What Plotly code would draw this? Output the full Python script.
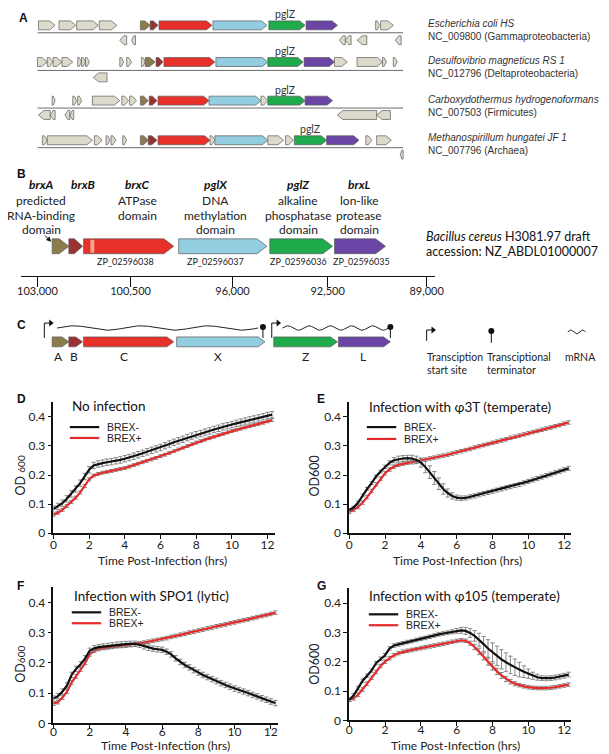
import math
import plotly.graph_objects as go

W, H = 609, 754
CAL = "Lato, Carlito, Calibri, sans-serif"
ARIAL = "Liberation Sans, Arial, sans-serif"
RED = "#e32b2b"
BLACK = "#111111"
ERRC = "#7d7d7d"

# ---------------- growth-curve data (OD600) ----------------
time_hrs = [0.0, 0.25, 0.5, 0.75, 1.0, 1.25, 1.5, 1.75, 2.0, 2.25,
            2.5, 2.75, 3.0, 3.25, 3.5, 3.75, 4.0, 4.25, 4.5, 4.75,
            5.0, 5.25, 5.5, 5.75, 6.0, 6.25, 6.5, 6.75, 7.0, 7.25,
            7.5, 7.75, 8.0, 8.25, 8.5, 8.75, 9.0, 9.25, 9.5, 9.75,
            10.0, 10.25, 10.5, 10.75, 11.0, 11.25, 11.5, 11.75, 12.0, 12.25]

d_brex_minus = [0.083, 0.092, 0.103, 0.118, 0.135, 0.152, 0.172, 0.195, 0.218, 0.233,
                0.238, 0.241, 0.244, 0.246, 0.249, 0.252, 0.256, 0.260, 0.265, 0.270,
                0.275, 0.280, 0.285, 0.290, 0.295, 0.301, 0.307, 0.313, 0.318, 0.323,
                0.329, 0.334, 0.339, 0.343, 0.348, 0.352, 0.357, 0.361, 0.366, 0.370,
                0.374, 0.378, 0.382, 0.386, 0.390, 0.393, 0.397, 0.401, 0.405, 0.408]
d_brex_plus = [0.063, 0.070, 0.080, 0.093, 0.107, 0.122, 0.140, 0.162, 0.185, 0.198,
               0.204, 0.208, 0.211, 0.214, 0.218, 0.221, 0.224, 0.229, 0.234, 0.239,
               0.244, 0.249, 0.254, 0.259, 0.265, 0.270, 0.276, 0.282, 0.288, 0.294,
               0.300, 0.306, 0.312, 0.317, 0.322, 0.327, 0.332, 0.337, 0.342, 0.347,
               0.352, 0.356, 0.360, 0.364, 0.368, 0.372, 0.376, 0.380, 0.385, 0.389]

e_brex_minus = [0.080, 0.088, 0.105, 0.130, 0.152, 0.172, 0.195, 0.212, 0.228, 0.242,
                0.251, 0.255, 0.257, 0.258, 0.257, 0.252, 0.243, 0.228, 0.210, 0.190,
                0.170, 0.152, 0.138, 0.128, 0.122, 0.120, 0.121, 0.125, 0.128, 0.132,
                0.136, 0.140, 0.144, 0.148, 0.152, 0.156, 0.160, 0.164, 0.168, 0.173,
                0.178, 0.183, 0.188, 0.193, 0.198, 0.203, 0.208, 0.213, 0.218, 0.223]
e_brex_plus = [0.073, 0.080, 0.090, 0.105, 0.124, 0.145, 0.168, 0.188, 0.206, 0.219,
               0.229, 0.235, 0.239, 0.242, 0.244, 0.247, 0.250, 0.253, 0.257, 0.260,
               0.264, 0.267, 0.270, 0.274, 0.278, 0.282, 0.286, 0.290, 0.295, 0.299,
               0.303, 0.307, 0.311, 0.315, 0.319, 0.323, 0.328, 0.332, 0.336, 0.340,
               0.344, 0.348, 0.352, 0.356, 0.360, 0.364, 0.368, 0.372, 0.377, 0.381]
e_minus_err = [0.005, 0.005, 0.005, 0.005, 0.005, 0.005, 0.005, 0.005, 0.006, 0.007,
               0.009, 0.010, 0.010, 0.010, 0.011, 0.013, 0.016, 0.020, 0.022, 0.022,
               0.020, 0.018, 0.014, 0.011, 0.009, 0.008, 0.007, 0.007, 0.007, 0.007,
               0.007, 0.007, 0.007, 0.007, 0.007, 0.007, 0.007, 0.007, 0.007, 0.007,
               0.007, 0.007, 0.007, 0.007, 0.007, 0.007, 0.007, 0.007, 0.007, 0.007]

f_brex_minus = [0.082, 0.090, 0.105, 0.125, 0.160, 0.180, 0.195, 0.215, 0.240, 0.248,
                0.252, 0.254, 0.256, 0.258, 0.260, 0.261, 0.262, 0.263, 0.263, 0.260,
                0.255, 0.250, 0.247, 0.245, 0.243, 0.237, 0.228, 0.215, 0.203, 0.193,
                0.185, 0.176, 0.168, 0.160, 0.153, 0.146, 0.140, 0.133, 0.127, 0.121,
                0.115, 0.110, 0.105, 0.100, 0.094, 0.089, 0.083, 0.078, 0.072, 0.067]
f_brex_plus = [0.065, 0.070, 0.085, 0.105, 0.135, 0.155, 0.178, 0.200, 0.228, 0.240,
               0.246, 0.249, 0.251, 0.253, 0.255, 0.256, 0.257, 0.259, 0.261, 0.264,
               0.267, 0.270, 0.273, 0.276, 0.279, 0.282, 0.286, 0.289, 0.293, 0.296,
               0.300, 0.303, 0.307, 0.310, 0.314, 0.317, 0.321, 0.324, 0.327, 0.331,
               0.334, 0.338, 0.341, 0.344, 0.348, 0.351, 0.355, 0.358, 0.362, 0.366]

g_brex_minus = [0.070, 0.085, 0.110, 0.135, 0.152, 0.170, 0.195, 0.210, 0.222, 0.245,
                0.255, 0.259, 0.263, 0.267, 0.270, 0.274, 0.278, 0.281, 0.285, 0.289,
                0.293, 0.296, 0.299, 0.302, 0.305, 0.307, 0.305, 0.298, 0.288, 0.275,
                0.260, 0.245, 0.232, 0.220, 0.208, 0.198, 0.189, 0.181, 0.173, 0.166,
                0.159, 0.152, 0.147, 0.144, 0.143, 0.144, 0.146, 0.149, 0.152, 0.156]
g_brex_plus = [0.070, 0.075, 0.087, 0.105, 0.125, 0.145, 0.165, 0.185, 0.200, 0.212,
               0.222, 0.229, 0.234, 0.237, 0.240, 0.243, 0.246, 0.249, 0.252, 0.255,
               0.258, 0.261, 0.264, 0.268, 0.271, 0.273, 0.271, 0.263, 0.250, 0.235,
               0.218, 0.200, 0.183, 0.167, 0.153, 0.141, 0.132, 0.125, 0.120, 0.116,
               0.113, 0.111, 0.110, 0.110, 0.110, 0.111, 0.113, 0.116, 0.119, 0.122]
g_minus_err = [0.006, 0.006, 0.006, 0.006, 0.006, 0.006, 0.006, 0.006, 0.006, 0.006,
               0.006, 0.006, 0.006, 0.006, 0.006, 0.006, 0.006, 0.006, 0.006, 0.006,
               0.006, 0.006, 0.006, 0.007, 0.008, 0.010, 0.012, 0.015, 0.018, 0.022,
               0.026, 0.030, 0.032, 0.033, 0.033, 0.032, 0.030, 0.028, 0.025, 0.020,
               0.016, 0.012, 0.010, 0.008, 0.008, 0.008, 0.008, 0.008, 0.008, 0.008]
g_plus_err = [0.006, 0.006, 0.006, 0.006, 0.006, 0.006, 0.006, 0.006, 0.006, 0.006,
              0.006, 0.006, 0.006, 0.006, 0.006, 0.006, 0.006, 0.006, 0.006, 0.006,
              0.006, 0.006, 0.006, 0.006, 0.006, 0.006, 0.006, 0.007, 0.009, 0.011,
              0.012, 0.012, 0.012, 0.011, 0.010, 0.009, 0.008, 0.007, 0.006, 0.006,
              0.006, 0.006, 0.006, 0.006, 0.006, 0.006, 0.006, 0.006, 0.006, 0.006]

x_ticks = [0, 2, 4, 6, 8, 10, 12]
y_ticks = [0, 0.1, 0.2, 0.3, 0.4]
y_tick_text = ["0", "0.1", "0.2", "0.3", "0.4"]
series_names = ["BREX-", "BREX+"]
panel_titles = ["No infection", "Infection with \u03c63T (temperate)",
                "Infection with SPO1 (lytic)", "Infection with \u03c6105 (temperate)"]

# ---------------- gene-diagram data (drawing units ~ px) ----------------
# (start, end, strand, kind)
row1_genes = [(28, 45, 1, "g"), (49, 66, 1, "g"), (67, 89, 1, "g"), (90, 108, 1, "g"),
              (132, 142, 1, "A"), (142, 150, 1, "B"), (151, 205, 1, "C"), (206, 261, 1, "X"),
              (263, 300, 1, "Z"), (301, 333, 1, "L"), (372, 376, 1, "g"), (377, 390, 1, "g"),
              (111, 118, -1, "g"), (123, 127, -1, "g"), (335, 341, -1, "g"), (341, 347, -1, "g"),
              (353, 363, -1, "g"), (392, 398, -1, "g")]
row2_genes = [(27, 37, 1, "g"), (37, 43, 1, "g"), (43, 52, 1, "g"), (52, 63, 1, "g"),
              (68, 72, 1, "g"), (72, 76, 1, "g"), (76, 80, 1, "g"), (111, 115, 1, "g"),
              (118, 123, 1, "g"), (133, 137, 1, "g"), (137, 147, 1, "A"), (148, 155, 1, "B"),
              (156, 208, 1, "C"), (209, 262, 1, "X"), (262, 298, 1, "Z"), (299, 330, 1, "L"),
              (330, 343, 1, "g"), (353, 379, 1, "g"), (379, 383, 1, "g"), (390, 394, 1, "g"),
              (84, 98, -1, "g")]
row3_genes = [(42, 45, 1, "g"), (63, 67, 1, "g"), (68, 72, 1, "g"), (83, 111, 1, "g"),
              (113, 120, 1, "g"), (121, 128, 1, "g"), (132, 140, 1, "A"), (141, 149, 1, "B"),
              (150, 202, 1, "C"), (202, 255, 1, "X"), (255, 262, 1, "g"), (262, 300, 1, "Z"),
              (300, 328, 1, "L"), (28, 40, -1, "g"), (40, 45, -1, "g"), (55, 60, -1, "g"),
              (60, 64, -1, "g"), (333, 373, -1, "g"), (373, 387, -1, "g")]
row4_genes = [(32, 37, 1, "g"), (37, 83, 1, "g"), (85, 93, 1, "g"), (97, 101, 1, "g"),
              (102, 107, 1, "g"), (114, 118, 1, "g"), (132, 140, 1, "A"), (140, 149, 1, "B"),
              (150, 203, 1, "C"), (203, 208, 1, "g"), (208, 262, 1, "X"), (262, 278, 1, "g"),
              (280, 288, 1, "g"), (289, 322, 1, "Z"), (322, 355, 1, "L"), (362, 368, 1, "g"),
              (373, 388, 1, "g"), (397, 400, -1, "g")]
species_names = ["Escherichia coli HS", "Desulfovibrio magneticus RS 1",
                 "Carboxydothermus hydrogenoformans", "Methanospirillum hungatei JF 1"]
species_ids = ["NC_009800 (Gammaproteobacteria)", "NC_012796 (Deltaproteobacteria)",
               "NC_007503 (Firmicutes)", "NC_007796 (Archaea)"]

operon_kinds = ["A", "B", "C", "X", "Z", "L"]
b_gene_starts = [42, 59, 74, 171, 264, 330]
b_gene_ends = [59, 73, 166, 261, 328, 382]
b_gene_names = ["brxA", "brxB", "brxC", "pglX", "pglZ", "brxL"]
b_gene_desc = [["predicted", "RNA-binding", "domain"], [], ["ATPase", "domain"],
               ["DNA", "methylation", "domain"], ["alkaline", "phosphatase", "domain"],
               ["lon-like", "protease", "domain"]]
b_accessions = ["ZP_02596038", "ZP_02596037", "ZP_02596036", "ZP_02596035"]
b_scale_labels = ["103,000", "100,500", "96,000", "92,500", "89,000"]
b_scale_pos = [27, 122, 226, 323, 424]

c_gene_starts = [42, 59, 74, 169, 268, 334]
c_gene_ends = [59, 73, 166, 259, 333, 387]
c_gene_letters = ["A", "B", "C", "X", "Z", "L"]

COLORS = {"g": "#dedacb", "A": "#8a7c4c", "B": "#9a3232", "C": "#e8302a",
          "X": "#93cde0", "Z": "#1fab4c", "L": "#6a45a5"}
OUTLINE = "#5a5a5a"

fig = go.Figure()
OV = dict(xaxis="x5", yaxis="y5")


def arrow_pts(x0, x1, yc, h, strand, head):
    L = x1 - x0
    hd = min(head, L * 0.6)
    top, bot = yc - h / 2, yc + h / 2
    if strand > 0:
        xs = [x0, x1 - hd, x1, x1 - hd, x0, x0]
    else:
        xs = [x1, x0 + hd, x0, x0 + hd, x1, x1]
    ys = [top, top, yc, bot, bot, top]
    return xs, ys


def add_genes(genes, h, head):
    groups = {}
    for (x0, x1, yc, strand, kind) in genes:
        xs, ys = arrow_pts(x0, x1, yc, h, strand, head)
        gx, gy = groups.setdefault(kind, ([], []))
        gx.extend(xs + [None])
        gy.extend(ys + [None])
    for kind, (gx, gy) in groups.items():
        fig.add_trace(go.Scatter(x=gx, y=gy, mode="lines", fill="toself",
                                 fillcolor=COLORS[kind],
                                 line=dict(color=OUTLINE, width=0.7),
                                 hoverinfo="skip", showlegend=False, **OV))


ann = []


def txt(x, y, s, size, family=CAL, color="#222", xanchor="center", angle=0, yanchor="middle"):
    ann.append(dict(x=x, y=y, xref="x5", yref="y5", text=s, showarrow=False,
                    xanchor=xanchor, yanchor=yanchor, textangle=angle,
                    font=dict(size=size, family=family, color=color)))


def hline(x0, x1, y, color="#666", width=1):
    fig.add_trace(go.Scatter(x=[x0, x1], y=[y, y], mode="lines",
                             line=dict(color=color, width=width),
                             hoverinfo="skip", showlegend=False, **OV))


# ---------------- Panel A ----------------
row_gene_y = [17.5, 54.5, 93.5, 133.5]
row_line_y = [25, 63, 101, 141]
row_below_y = [32.5, 70, 108, 148]
pglz_label_x = [279, 279, 279, 305]
species_y = [16, 53, 92, 131]
ids_y = [29, 66, 105, 144]
all_rows = [row1_genes, row2_genes, row3_genes, row4_genes]
genesA = []
for i, rg in enumerate(all_rows):
    hline(27, 400, row_line_y[i], color="#6a6a6a", width=1)
    for (s, e, st, k) in rg:
        genesA.append((s, e, row_gene_y[i] if st > 0 else row_below_y[i], st, k))
    txt(pglz_label_x[i], row_gene_y[i] - 11, "pglZ", 10.5, CAL, "#333")
    txt(423, species_y[i], "<i>" + species_names[i] + "</i>", 10, ARIAL, "#333", "left")
    txt(423, ids_y[i], species_ids[i], 10, ARIAL, "#333", "left")
add_genes(genesA, 9, 5.5)

# ---------------- Panel B ----------------
b_gene_y = 240.5
genesB = [(s, e, b_gene_y, 1, k) for s, e, k in zip(b_gene_starts, b_gene_ends, operon_kinds)]
add_genes(genesB, 15, 10)
# light band inside brxC
fig.add_trace(go.Scatter(x=[81, 85, 85, 81, 81],
                         y=[b_gene_y - 6.5, b_gene_y - 6.5, b_gene_y + 6.5, b_gene_y + 6.5, b_gene_y - 6.5],
                         mode="lines", fill="toself", fillcolor="#f6a58d",
                         line=dict(width=0), hoverinfo="skip", showlegend=False, **OV))
name_x = [31, 74, 129, 209, 293, 355]
for i, nm in enumerate(b_gene_names):
    txt(name_x[i], 178, "<b><i>" + nm + "</i></b>", 12, CAL, "#111")
    for j, line in enumerate(b_gene_desc[i]):
        txt(name_x[i], 194 + 15 * j, line, 12, CAL, "#222")
acc_x = [117, 209, 293, 358]
for i, a in enumerate(b_accessions):
    txt(acc_x[i], 256, a, 9, CAL, "#222")
txt(421, 231, "<i>Bacillus cereus</i> H3081.97 draft", 12.5, CAL, "#111", "left")
txt(421, 246, "accession: NZ_ABDL01000007", 12.5, CAL, "#111", "left")
ann.append(dict(x=41, y=236, xref="x5", yref="y5", ax=33, ay=228, axref="x5", ayref="y5",
                showarrow=True, arrowhead=2, arrowsize=1, arrowwidth=1, arrowcolor="#111", text=""))

# ---------------- Panel C ----------------
c_gene_y = 337
genesC = [(s, e, c_gene_y, 1, k) for s, e, k in zip(c_gene_starts, c_gene_ends, operon_kinds)]
add_genes(genesC, 10, 7)
c_letter_x = [48, 64, 115, 211, 300, 359]
for lx, lt in zip(c_letter_x, c_gene_letters):
    txt(lx, 352, lt, 12, CAL, "#222")


def promoter(x, ybot, ytop, length):
    fig.add_trace(go.Scatter(x=[x, x, x + length - 2], y=[ybot, ytop, ytop], mode="lines",
                             line=dict(color="#111", width=1), hoverinfo="skip",
                             showlegend=False, **OV))
    fig.add_trace(go.Scatter(x=[x + length - 1.5], y=[ytop], mode="markers",
                             marker=dict(symbol="triangle-right", size=6, color="#111"),
                             hoverinfo="skip", showlegend=False, **OV))


def terminator(x, ybot, ytop):
    fig.add_trace(go.Scatter(x=[x, x], y=[ybot, ytop], mode="lines",
                             line=dict(color="#111", width=1), hoverinfo="skip",
                             showlegend=False, **OV))
    fig.add_trace(go.Scatter(x=[x], y=[ytop], mode="markers",
                             marker=dict(symbol="circle", size=6, color="#111"),
                             hoverinfo="skip", showlegend=False, **OV))


def wave(x0, x1, yc, amp, cycles):
    n = 120
    xs = [x0 + (x1 - x0) * i / n for i in range(n + 1)]
    ys = [yc - amp * math.sin(2 * math.pi * cycles * i / n) for i in range(n + 1)]
    fig.add_trace(go.Scatter(x=xs, y=ys, mode="lines", line=dict(color="#222", width=1),
                             hoverinfo="skip", showlegend=False, **OV))


promoter(34, 333, 318, 8)
wave(47, 252, 323, 2.2, 3)
terminator(257, 333, 322)
promoter(266, 333, 318, 8)
wave(277, 385, 323, 2.2, 5)
terminator(387, 333, 322)
# legend of panel C
promoter(424, 336, 325, 8)
terminator(490, 338, 326)
wave(568, 586, 327, 2, 1.5)
txt(422, 352, "Transciption", 10.5, CAL, "#222", "left")
txt(422, 365, "start site", 10.5, CAL, "#222", "left")
txt(484, 352, "Transciptional", 10.5, CAL, "#222", "left")
txt(484, 365, "terminator", 10.5, CAL, "#222", "left")
txt(563, 352, "mRNA", 10.5, CAL, "#222", "left")

# panel letters
for lt, lx, ly in [("A", 6, 10), ("B", 4, 168), ("C", 4, 320), ("D", 4, 395),
                   ("E", 310, 395), ("F", 4, 583), ("G", 310, 583)]:
    txt(lx, ly, "<b>" + lt + "</b>", 12, ARIAL, "#111", "left")

# ---------------- growth charts ----------------
def ebar(**kw):
    d = dict(type="data", color=ERRC, thickness=0.9, width=2.2)
    d.update(kw)
    return d


panels = [
    dict(xa="x", ya="y", xd=(43.3, 269.0), y0=530.0, ppt=293.0, data=(d_brex_minus, d_brex_plus),
         err_minus=ebar(type="constant", value=0.011), err_plus=ebar(type="constant", value=0.005),
         tx=60, ty=402, leg=(60, 423, 434), xt=(155, 558), xt_anchor="middle", sto=-4, yt=(10, 472),
         ylab="OD <span style='font-size:10px'>600</span>"),
    dict(xa="x2", ya="y2", xd=(345.0, 571.6), y0=530.0, ppt=293.0, data=(e_brex_minus, e_brex_plus),
         err_minus=ebar(array=e_minus_err), err_plus=ebar(type="constant", value=0.006),
         tx=363, ty=403, leg=(363, 423, 435), xt=(455, 558), xt_anchor="middle", sto=-4, yt=(310, 472),
         ylab="OD600"),
    dict(xa="x3", ya="y3", xd=(43.3, 272.4), y0=722.0, ppt=305.0, data=(f_brex_minus, f_brex_plus),
         err_minus=ebar(type="constant", value=0.009), err_plus=ebar(type="constant", value=0.006),
         tx=62, ty=594, leg=(62, 610, 621), xt=(158, 754), xt_anchor="bottom", sto=-7, yt=(10, 662),
         ylab="OD<span style='font-size:10px'>600</span>"),
    dict(xa="x4", ya="y4", xd=(345.0, 571.6), y0=719.0, ppt=296.0, data=(g_brex_minus, g_brex_plus),
         err_minus=ebar(array=g_minus_err), err_plus=ebar(array=g_plus_err),
         tx=363, ty=594, leg=(365, 612, 623), xt=(453, 754), xt_anchor="bottom", sto=-6, yt=(310, 662),
         ylab="OD600"),
]

layout_axes = {}
shapes = []
for i, p in enumerate(panels):
    minus, plus = p["data"]
    fig.add_trace(go.Scatter(x=time_hrs, y=plus, mode="lines", name=series_names[1],
                             line=dict(color=RED, width=2.2), error_y=p["err_plus"],
                             xaxis=p["xa"], yaxis=p["ya"], showlegend=False))
    fig.add_trace(go.Scatter(x=time_hrs, y=minus, mode="lines", name=series_names[0],
                             line=dict(color=BLACK, width=2.2), error_y=p["err_minus"],
                             xaxis=p["xa"], yaxis=p["ya"], showlegend=False))
    xkey = "xaxis" + ("" if i == 0 else str(i + 1))
    ykey = "yaxis" + ("" if i == 0 else str(i + 1))
    ytop = p["y0"] - 0.45 * p["ppt"]
    layout_axes[xkey] = dict(domain=[p["xd"][0] / W, p["xd"][1] / W], range=[0, 12.4],
                             anchor=p["ya"], tickmode="array", tickvals=x_ticks,
                             ticks="outside", ticklen=4, tickwidth=1.2, tickcolor="#111",
                             ticklabelstandoff=p["sto"],
                             showline=True, linecolor="#111", linewidth=1.5,
                             showgrid=False, zeroline=False, fixedrange=True,
                             tickfont=dict(family=CAL, size=12, color="#222"))
    layout_axes[ykey] = dict(domain=[1 - p["y0"] / H, 1 - ytop / H], range=[0, 0.45],
                             anchor=p["xa"], tickmode="array", tickvals=y_ticks,
                             ticktext=y_tick_text, ticks="outside", ticklen=4,
                             tickwidth=1.2, tickcolor="#111", showline=True,
                             linecolor="#111", linewidth=1.5, showgrid=False,
                             zeroline=False, fixedrange=True,
                             tickfont=dict(family=CAL, size=12, color="#222"))
    txt(p["tx"], p["ty"], panel_titles[i], 13.5, CAL, "#111", "left")
    lx, ly1, ly2 = p["leg"]
    shapes.append(dict(type="line", xref="x5", yref="y5", x0=lx, x1=lx + 30, y0=ly1, y1=ly1,
                       line=dict(color=BLACK, width=2.2)))
    shapes.append(dict(type="line", xref="x5", yref="y5", x0=lx, x1=lx + 30, y0=ly2, y1=ly2,
                       line=dict(color=RED, width=2.2)))
    txt(lx + 36, ly1, series_names[0], 10.5, ARIAL, "#222", "left")
    txt(lx + 36, ly2, series_names[1], 10.5, ARIAL, "#222", "left")
    txt(p["xt"][0], p["xt"][1], "Time Post-Infection (hrs)", 12, CAL, "#222",
        yanchor=p["xt_anchor"])
    txt(p["yt"][0], p["yt"][1], p["ylab"], 12.5, CAL, "#222", "center", -90)

# B scale axis
fig.add_trace(go.Scatter(x=[b_scale_pos[0]], y=[0.5], mode="markers", marker=dict(opacity=0),
                         xaxis="x6", yaxis="y6", hoverinfo="skip", showlegend=False))
layout_axes["xaxis6"] = dict(domain=[10 / W, 433 / W], range=[10, 433], anchor="y6",
                             tickmode="array", tickvals=b_scale_pos, ticktext=b_scale_labels,
                             ticks="outside", ticklen=10, tickwidth=1, tickcolor="#111",
                             ticklabelstandoff=-6,
                             showline=True, linecolor="#111", linewidth=1, showgrid=False,
                             zeroline=False, fixedrange=True,
                             tickfont=dict(family=CAL, size=11, color="#222"))
layout_axes["yaxis6"] = dict(domain=[1 - 271 / H, 1 - 262 / H], range=[0, 1], anchor="x6",
                             visible=False, fixedrange=True)
layout_axes["xaxis5"] = dict(domain=[0, 1], range=[0, W], anchor="y5", visible=False, fixedrange=True)
layout_axes["yaxis5"] = dict(domain=[0, 1], range=[H, 0], anchor="x5", visible=False, fixedrange=True)

fig.update_layout(width=W, height=H, margin=dict(l=0, r=0, t=0, b=0),
                  paper_bgcolor="white", plot_bgcolor="rgba(0,0,0,0)",
                  showlegend=False, annotations=ann, shapes=shapes, **layout_axes)
fig.write_html("out.html")
